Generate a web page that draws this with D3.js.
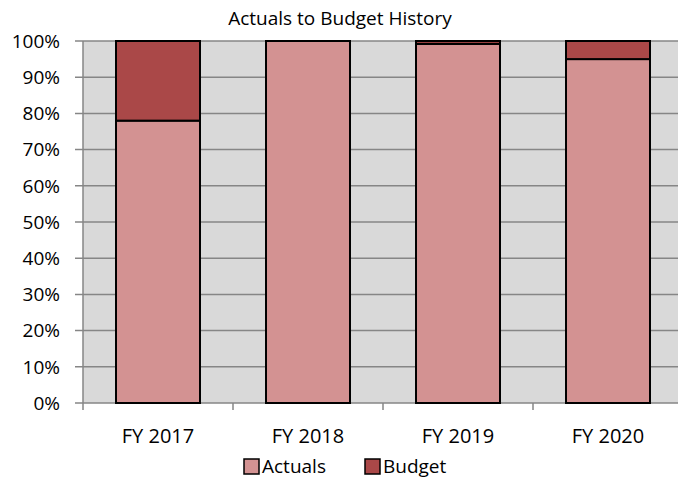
<!DOCTYPE html>
<html lang="en">
<head>
	<meta charset="utf-8">
	<title>Actuals to Budget History</title>
	<style>
		body { margin: 0; background: #fff; }
		svg { font-family: "Open Sans", "Liberation Sans", sans-serif; }
	</style>
</head>
<body>
	<svg id="chart" width="678" height="486"></svg>

	<script src="https://d3js.org/d3.v7.min.js"></script>
	<script>
		"use strict";

		var categories = ["FY 2017", "FY 2018", "FY 2019", "FY 2020"];
		var actuals = [78, 100, 99.2, 95];
		var budget = [22, 0, 0.8, 5];
		var yTicks = [0, 10, 20, 30, 40, 50, 60, 70, 80, 90, 100];
		var seriesNames = ["Actuals", "Budget"];
		var colors = ["#d39292", "#aa4848"];

		var svg = d3.select("#chart");
		var plotL = 83, plotR = 683, plotT = 41, plotB = 403;
		var fs = 19;

		var x = d3.scaleBand().domain(categories).range([plotL, plotR]).paddingInner(0.44).paddingOuter(0.22);
		var y = d3.scaleLinear().domain([0, 100]).range([plotB, plotT]);

		// plot background
		svg.append("rect")
			.attr("x", plotL).attr("y", plotT)
			.attr("width", 678 - plotL).attr("height", plotB - plotT)
			.attr("fill", "#d9d9d9");

		// gridlines
		svg.append("g").selectAll("line")
			.data(yTicks)
			.enter().append("line")
			.attr("x1", plotL - 8).attr("x2", 678)
			.attr("y1", function(d){ return y(d); })
			.attr("y2", function(d){ return y(d); })
			.attr("stroke", "#868686")
			.attr("stroke-width", 1.5);

		// y labels
		svg.append("g").selectAll("text")
			.data(yTicks)
			.enter().append("text")
			.attr("x", plotL - 23)
			.attr("y", function(d){ return y(d); })
			.attr("dy", "0.36em")
			.attr("text-anchor", "end")
			.attr("font-size", fs)
			.attr("fill", "#000")
			.text(function(d){ return d + "%"; });

		// y axis line
		svg.append("line")
			.attr("x1", plotL).attr("x2", plotL)
			.attr("y1", plotT).attr("y2", plotB)
			.attr("stroke", "#868686").attr("stroke-width", 1.5);

		// category ticks
		var step = x.step();
		var tickPos = d3.range(categories.length + 1).map(function(i){ return plotL + i * step; });
		svg.append("g").selectAll("line")
			.data(tickPos)
			.enter().append("line")
			.attr("x1", function(d){ return d; }).attr("x2", function(d){ return d; })
			.attr("y1", plotB).attr("y2", plotB + 7)
			.attr("stroke", "#868686").attr("stroke-width", 1.5);

		// stacked bars
		var rows = categories.map(function(c, i){ return { cat: c, Actuals: actuals[i], Budget: budget[i] }; });
		var stacked = d3.stack().keys(seriesNames)(rows);

		svg.append("g").selectAll("g")
			.data(stacked)
			.enter().append("g")
			.attr("fill", function(d, i){ return colors[i]; })
			.selectAll("rect")
			.data(function(d){ return d.filter(function(p){ return p[1] - p[0] > 0; }); })
			.enter().append("rect")
			.attr("x", function(d){ return x(d.data.cat); })
			.attr("y", function(d){ return y(d[1]); })
			.attr("width", x.bandwidth())
			.attr("height", function(d){ return y(d[0]) - y(d[1]); })
			.attr("stroke", "#000")
			.attr("stroke-width", 2);

		// x labels
		svg.append("g").selectAll("text")
			.data(categories)
			.enter().append("text")
			.attr("x", function(d){ return x(d) + x.bandwidth() / 2; })
			.attr("y", 443)
			.attr("text-anchor", "middle")
			.attr("font-size", 20)
			.text(function(d){ return d; });

		// title
		svg.append("text")
			.attr("x", 340).attr("y", 25)
			.attr("text-anchor", "middle")
			.attr("font-size", 19)
			.text("Actuals to Budget History");

		// legend
		var legendX = [244, 365];
		var lg = svg.append("g").selectAll("g")
			.data(seriesNames)
			.enter().append("g")
			.attr("transform", function(d, i){ return "translate(" + legendX[i] + ",466)"; });
		lg.append("rect")
			.attr("x", 0).attr("y", -7)
			.attr("width", 15).attr("height", 15)
			.attr("fill", function(d, i){ return colors[i]; })
			.attr("stroke", "#000").attr("stroke-width", 1.5);
		lg.append("text")
			.attr("x", 18).attr("dy", "0.36em")
			.attr("font-size", fs)
			.text(function(d){ return d; });
	</script>
</body>
</html>
